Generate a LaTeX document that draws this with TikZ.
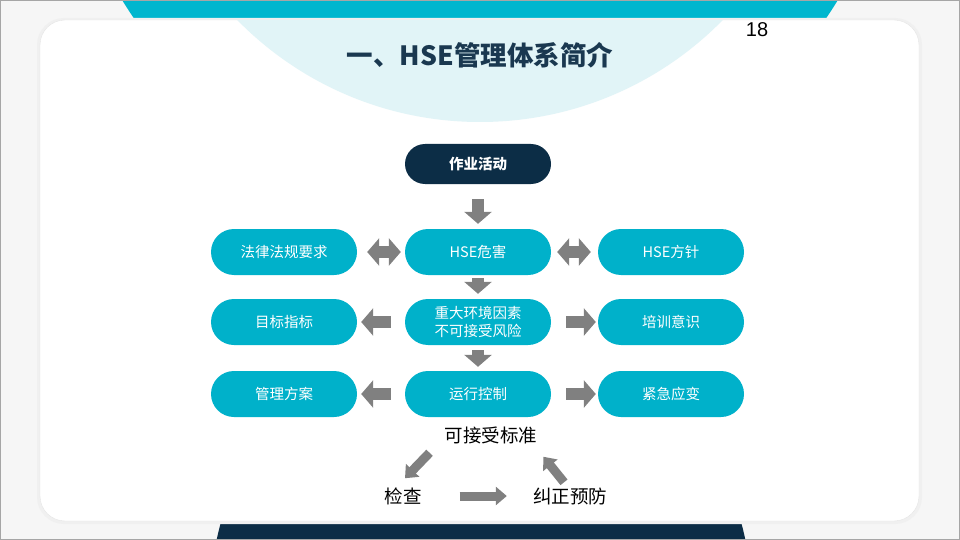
\documentclass[tikz,border=0pt]{standalone}
\usepackage{fontspec}
\setmainfont{Liberation Sans}
\newfontfamily\cjk{Noto Sans CJK SC}
\usetikzlibrary{arrows.meta}
\definecolor{hseteal}{HTML}{00B1CA}
\definecolor{hsetop}{HTML}{00B6CE}
\definecolor{hsenavy}{HTML}{0C2D46}
\definecolor{hselight}{HTML}{E1F4F7}
\definecolor{hsegray}{HTML}{808080}
\definecolor{hsetitle}{HTML}{1A3850}
\definecolor{hsebg}{HTML}{F6F6F6}

\begin{document}
\begin{tikzpicture}[x=1pt,y=-1pt,font=\cjk\fontsize{14.5}{18}\selectfont,
  >={Triangle[length=12pt 0 0,width=27pt 0 0]},
  pill/.style={fill=hseteal,text=white,rounded corners=23pt,minimum width=146pt,minimum height=46pt,align=center},
  barrow/.style={draw=hsegray,line width=12pt,->},
  dbarrow/.style={draw=hsegray,line width=12pt,<->},
  sarrow/.style={draw=hsegray,line width=9pt,-{Triangle[length=11pt 0 0,width=18pt 0 0]}},
  plain/.style={inner sep=0pt,font=\cjk\fontsize{18.5}{22}\selectfont}]
\useasboundingbox (0,0) rectangle (960,540);
\clip (0,0) rectangle (960,540);
% background and card
\fill[hsebg] (0,0) rectangle (960,540);
\fill[hsetop] (480,-218) circle[radius=419];
\fill[hsenavy] (481,595) circle[radius=270];
\fill[black!6,rounded corners=27pt] (37,18) rectangle (922,524);
\draw[black!10,fill=white,rounded corners=25pt] (40,20) rectangle (919,521);
\begin{scope}
\clip[rounded corners=25pt] (40,20) rectangle (919,521);
\fill[hselight] (480,-218) circle[radius=340];
\end{scope}
\draw[black!35] (0.5,0.5) rectangle (959.5,539.5);
% title
\node[font=\cjk\bfseries\fontsize{26.5}{30}\selectfont,text=hsetitle] (title) at (480,55) {一、HSE管理体系简介};
\node[font=\rmfamily\fontsize{20}{24}\selectfont] (pnum) at (757,30) {18};
% pills
\node[pill,fill=hsenavy,minimum height=40pt,rounded corners=20pt,font=\cjk\bfseries\fontsize{14.5}{18}\selectfont] (act) at (478,164) {作业活动};
\node[pill] (law) at (284,252) {法律法规要求};
\node[pill] (haz) at (478,252) {HSE危害};
\node[pill] (pol) at (671,252) {HSE方针};
\node[pill] (tgt) at (284,322) {目标指标};
\node[pill] (maj) at (478,322) {重大环境因素\\不可接受风险};
\node[pill] (trn) at (671,322) {培训意识};
\node[pill] (plan) at (284,394) {管理方案};
\node[pill] (op) at (478,394) {运行控制};
\node[pill] (emg) at (671,394) {紧急应变};
% block arrows
\foreach \a/\b/\s/\e in {act/haz/15/5,haz/maj/3/5,maj/op/5/4,maj/tgt/14/4,maj/trn/15/2,op/plan/14/4,op/emg/15/2}
  \draw[barrow,shorten <=\s pt,shorten >=\e pt] (\a) -- (\b);
\draw[dbarrow,shorten <=10pt,shorten >=4pt] (law) -- (haz);
\draw[dbarrow,shorten <=6pt,shorten >=7pt] (haz) -- (pol);
% cycle
\node[plain] (std) at (491,435) {可接受标准};
\node[plain] (chk) at (403,496) {检查};
\node[plain] (cor) at (570,496) {纠正预防};
\draw[sarrow] ([xshift=-15pt,yshift=-9pt]std.south west) -- ([xshift=2pt,yshift=9pt]chk.north);
\draw[sarrow,shorten <=38pt,shorten >=26pt] (chk) -- (cor);
\draw[sarrow] ([xshift=-6pt,yshift=5pt]cor.north) -- ([xshift=6pt,yshift=-13pt]std.south east);
\end{tikzpicture}
\end{document}
